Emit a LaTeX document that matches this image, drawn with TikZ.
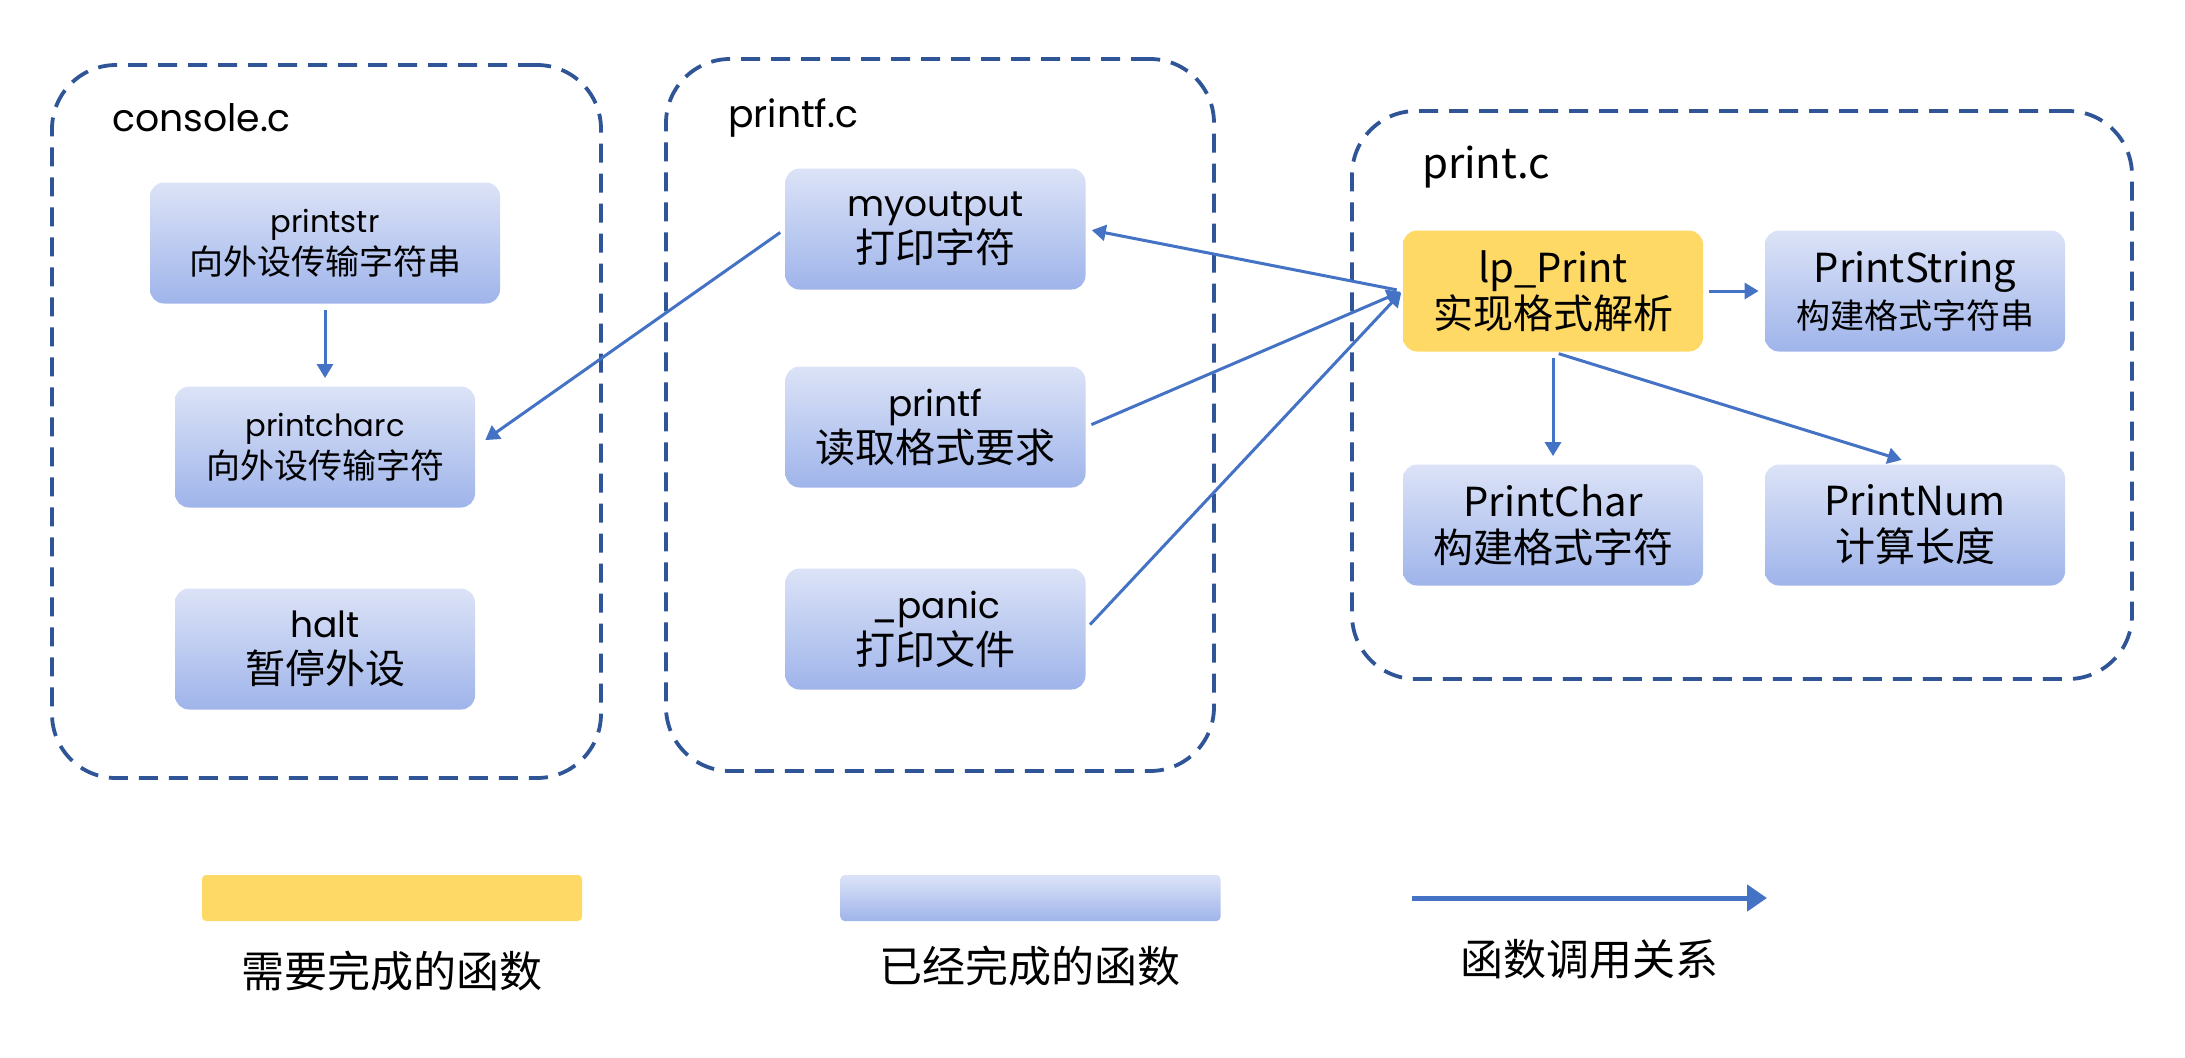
\documentclass[tikz,border=0pt]{standalone}
\usepackage{fontspec}
\setmainfont{Noto Sans CJK SC}
\newfontfamily\latinfont[Scale=0.9]{Poppins}
\usetikzlibrary{positioning, arrows.meta}

\definecolor{frameblue}{HTML}{2F5597}
\definecolor{callblue}{HTML}{4472C4}
\definecolor{todoyellow}{HTML}{FFD966}
\definecolor{donetop}{HTML}{DCE3F7}
\definecolor{donebottom}{HTML}{9FB4EA}

\begin{document}
\begin{tikzpicture}
  [
    x=0.5pt, y=-0.5pt,
    on grid,
    node distance=101pt and 181pt,
    group/.style={draw=frameblue, line width=1.9pt, dash pattern=on 9.5pt off 5.5pt, rounded corners=32pt},
    title/.style={anchor=west, font=\fontsize{21}{24}\selectfont},
    done/.style={rounded corners=7pt, top color=donetop, bottom color=donebottom, align=center,
      minimum width=150pt, minimum height=60.5pt, inner sep=0pt, font=\fontsize{20}{23}\selectfont},
    todo/.style={done, top color=todoyellow, bottom color=todoyellow},
    small/.style={font=\fontsize{17}{21}\selectfont},
    call/.style={-{Triangle[length=7pt, width=8pt]}, callblue, line width=1.5pt, shorten <=3pt, shorten >=3pt},
    legend/.style={font=\fontsize{21.5}{24}\selectfont}
  ]
    \useasboundingbox (0,0) rectangle (2185,1057);
    % =========================================================================
    % GROUPS
    % =========================================================================
    \node [group, minimum width=274.5pt, minimum height=356.5pt] (console) at (326.5,421.5) {};
    \node [group, minimum width=274pt, minimum height=356pt] (printfc) at (940,415) {};
    \node [group, minimum width=390pt, minimum height=284pt] (printc) at (1742,395) {};
    \node [title] (consoletitle) at (105,118) {\latinfont console.c};
    \node [title] (printftitle) at (721,118) {\latinfont printf.c};
    \node [title] (printtitle) at (1415,167) {print.c};

    % =========================================================================
    % FUNCTIONS
    % =========================================================================
    % --- console.c ---
    \node [done, small, minimum width=175pt] (printstr) at (325,243)
      {{\latinfont printstr}\\向外设传输字符串};
    \node [done, small, below=of printstr, yshift=-1pt] (printcharc)
      {{\latinfont printcharc}\\向外设传输字符};
    \node [done, below=of printcharc] (halt)
      {{\latinfont halt}\\暂停外设};
    % --- printf.c ---
    \node [done] (myoutput) at (935.5,229)
      {{\latinfont myoutput}\\打印字符};
    \node [done, below=of myoutput, yshift=2pt] (printf)
      {{\latinfont printf}\\读取格式要求};
    \node [done, below=of printf] (panic)
      {{\latinfont \_panic}\\打印文件};
    % --- print.c ---
    \node [todo] (lpprint) at (1553,291)
      {lp\_Print\\实现格式解析};
    \node [done, right=of lpprint] (printstring)
      {PrintString\\{\fontsize{17}{21}\selectfont 构建格式字符串}};
    \node [done, below=117pt of lpprint] (printchar)
      {PrintChar\\构建格式字符};
    \node [done, right=of printchar] (printnum)
      {PrintNum\\计算长度};

    % =========================================================================
    % LEGEND
    % =========================================================================
    \node [todo, rounded corners=2pt, minimum width=190pt, minimum height=23pt] (todokey) at (392,898) {};
    \node [done, rounded corners=2pt, minimum width=190pt, minimum height=23pt] (donekey) at (1030.5,898) {};
    \coordinate (callfrom) at (1412,898);
    \coordinate (callto) at (1767,898);
    \node [legend] (todotext) at (392,971) {需要完成的函数};
    \node [legend] (donetext) at (1030,966) {已经完成的函数};
    \node [legend] (calltext) at (1589,959) {函数调用关系};

    % =========================================================================
    % CALLS
    % =========================================================================
    \draw [call, shorten >=4pt] (printstr.south) -- (printcharc.north);
    \draw [call, shorten >=6pt] (myoutput.west) -- (printcharc.east);
    \draw [call] (lpprint.west) -- (myoutput.east);
    \draw [call, shorten >=1pt] (printf.east) -- (lpprint.west);
    \draw [call, shorten >=1pt] (panic.east) -- (lpprint.west);
    \draw [call] (lpprint.east) -- (printstring.west);
    \draw [call, shorten >=4pt] (lpprint.south) -- (printchar.north);
    \draw [call, shorten >=7pt] (lpprint.south) -- (printnum.north);
    \draw [call, line width=2.5pt, shorten <=0pt, shorten >=0pt,
      -{Triangle[length=10pt, width=13pt]}] (callfrom) -- (callto);

\end{tikzpicture}
\end{document}
